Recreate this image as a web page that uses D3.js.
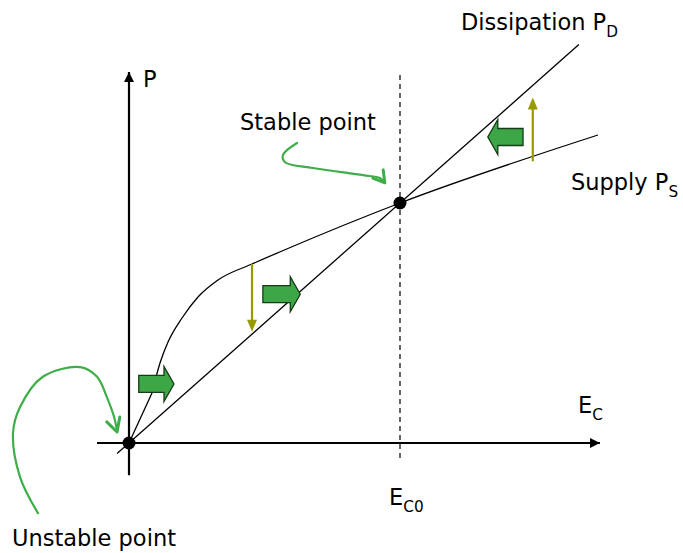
<!DOCTYPE html>
<html>
<head>
<meta charset="utf-8">
<script src="https://cdn.jsdelivr.net/npm/d3@7"></script>
<style>
  body { margin: 0; background: #fff; }
  svg text { font-family: "DejaVu Sans", Verdana, sans-serif; fill: #000; }
</style>
</head>
<body>
<div id="chart"></div>
<script>
// curve data (E_C, P) in arbitrary units, stable point at (5, 5)
const dissipationLine = [[-0.22, -0.22], [8.3, 8.3]];
const supplyStart = [[0, 0], [0.424, 1.042]];
const supplyCurve = [
  [0.424, 1.042], [0.572, 1.667], [0.72, 2.104], [0.978, 2.604],
  [1.273, 3.042], [1.642, 3.396], [2.269, 3.729], [2.823, 4.0],
  [5, 5], [8.653, 6.417]
];
const points = [[0, 0], [5, 5]];
const stableE = 5;
const xAxisRange = [-0.59, 8.69];
const yAxisRange = [-0.67, 7.73];
const dashedRange = [-0.31, 7.73];

// green block arrows: tail E, tip E, P
const blockArrows = [[0.18, 0.83, 1.23], [2.47, 3.16, 3.1], [7.27, 6.62, 6.375]];
// olive arrows: E, from P, to P
const shiftArrows = [[2.27, 3.73, 2.32], [7.45, 5.87, 7.2]];

// hand drawn call-out arrows
const stableNote = [[3.1, 6.25], [2.84, 6.0], [2.88, 5.85], [3.39, 5.73], [4.32, 5.58], [4.63, 5.52], [4.72, 5.42]];
const stableNoteHead = [[4.69, 5.69], [4.72, 5.42], [4.5, 5.52]];
const unstableNote = [[-1.68, -1.46], [-2.01, -0.71], [-2.14, 0.21], [-2.01, 0.75], [-1.59, 1.38], [-0.9, 1.58], [-0.59, 1.38], [-0.41, 0.96], [-0.26, 0.48], [-0.22, 0.23]];
const unstableNoteHead = [[-0.41, 0.44], [-0.22, 0.23], [-0.17, 0.54]];

const width = 683, height = 553;
const svg = d3.select("#chart").append("svg")
  .attr("width", width).attr("height", height);

const x = d3.scaleLinear().domain([0, 5]).range([129, 400]);
const y = d3.scaleLinear().domain([0, 5]).range([443, 203]);

const defs = svg.append("defs");
defs.append("marker")
  .attr("id", "axhead")
  .attr("viewBox", "0 0 10 10")
  .attr("refX", 10).attr("refY", 5)
  .attr("markerWidth", 10).attr("markerHeight", 10)
  .attr("markerUnits", "userSpaceOnUse")
  .attr("orient", "auto")
  .append("path").attr("d", "M0,0 L10,5 L0,10 Z").attr("fill", "#000");

const line = d3.line().x(d => x(d[0])).y(d => y(d[1]));
const smooth = d3.line().x(d => x(d[0])).y(d => y(d[1])).curve(d3.curveCatmullRom.alpha(0.5));
const mono = d3.line().x(d => x(d[0])).y(d => y(d[1])).curve(d3.curveMonotoneX);

// axes
svg.append("line")
  .attr("x1", x(xAxisRange[0])).attr("x2", x(xAxisRange[1]))
  .attr("y1", y(0)).attr("y2", y(0))
  .attr("stroke", "#000").attr("stroke-width", 2.2)
  .attr("marker-end", "url(#axhead)");
svg.append("line")
  .attr("x1", x(0)).attr("x2", x(0))
  .attr("y1", y(yAxisRange[0])).attr("y2", y(yAxisRange[1]))
  .attr("stroke", "#000").attr("stroke-width", 2.2)
  .attr("marker-end", "url(#axhead)");

// dashed E_C0 line
svg.append("line")
  .attr("x1", x(stableE)).attr("x2", x(stableE))
  .attr("y1", y(dashedRange[0])).attr("y2", y(dashedRange[1]))
  .attr("stroke", "#000").attr("stroke-width", 1.2)
  .attr("stroke-dasharray", "5,4");

// dissipation and supply
svg.append("path").attr("d", line(dissipationLine))
  .attr("fill", "none").attr("stroke", "#000").attr("stroke-width", 1.3);
svg.append("path").attr("d", line(supplyStart))
  .attr("fill", "none").attr("stroke", "#000").attr("stroke-width", 1.3);
svg.append("path").attr("d", mono(supplyCurve))
  .attr("fill", "none").attr("stroke", "#000").attr("stroke-width", 1.3);

// olive shift arrows
shiftArrows.forEach(([e, p0, p1]) => {
  const dir = p1 > p0 ? -1 : 1; // screen direction of travel
  const tipY = y(p1);
  svg.append("line")
    .attr("x1", x(e)).attr("x2", x(e))
    .attr("y1", y(p0)).attr("y2", tipY - dir * 10)
    .attr("stroke", "#999900").attr("stroke-width", 2.2);
  svg.append("path")
    .attr("d", `M${x(e)},${tipY} L${x(e) - 5},${tipY - dir * 12} L${x(e) + 5},${tipY - dir * 12} Z`)
    .attr("fill", "#999900");
});

// green block arrows
blockArrows.forEach(([e0, e1, p]) => {
  const x0 = x(e0), x1 = x(e1), cy = y(p);
  const s = x1 > x0 ? 1 : -1;
  const hx = x1 - s * 10;
  const d = `M${x0},${cy - 8.5} L${hx},${cy - 8.5} L${hx},${cy - 17.5} L${x1},${cy} ` +
            `L${hx},${cy + 17.5} L${hx},${cy + 8.5} L${x0},${cy + 8.5} Z`;
  svg.append("path").attr("d", d)
    .attr("fill", "#3da646").attr("stroke", "#163b18").attr("stroke-width", 1.3)
    .attr("stroke-linejoin", "miter");
});

// call-out arrows
[[stableNote, stableNoteHead], [unstableNote, unstableNoteHead]].forEach(([c, h]) => {
  svg.append("path").attr("d", smooth(c))
    .attr("fill", "none").attr("stroke", "#3fae49").attr("stroke-width", 2.2)
    .attr("stroke-linecap", "round");
  svg.append("path").attr("d", line(h))
    .attr("fill", "none").attr("stroke", "#3fae49").attr("stroke-width", 3)
    .attr("stroke-linecap", "round").attr("stroke-linejoin", "round");
});

// points
svg.selectAll("circle.pt").data(points).enter().append("circle")
  .attr("class", "pt")
  .attr("cx", d => x(d[0])).attr("cy", d => y(d[1]))
  .attr("r", 6.5).attr("fill", "#000");

// labels
function label(tx, ty, main, sub, size) {
  const t = svg.append("text").attr("x", tx).attr("y", ty)
    .attr("font-size", size).text(main);
  if (sub) {
    t.append("tspan").attr("dy", 7).attr("font-size", size * 0.68).text(sub);
  }
  return t;
}
label(461, 30, "Dissipation P", "D", 22.5);
label(571, 190, "Supply P", "S", 22.5);
label(240, 130, "Stable point", null, 22.5);
label(12, 546, "Unstable point", null, 22.5);
label(143, 87, "P", null, 22.5);
label(578, 413, "E", "C", 22.5);
label(389, 505, "E", "C0", 22.5);
</script>
</body>
</html>
